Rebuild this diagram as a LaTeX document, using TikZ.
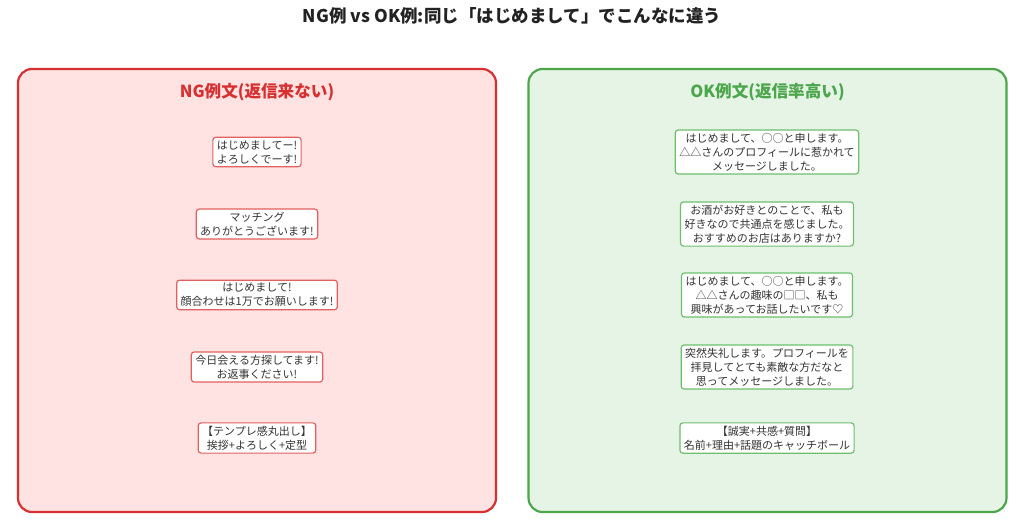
\documentclass[tikz,border=0pt]{standalone}
\usepackage{fontspec}
\setmainfont{Noto Sans CJK JP}
\usetikzlibrary{positioning}
\definecolor{ngFill}{RGB}{255, 226, 226}
\definecolor{ngDraw}{RGB}{214, 48, 49}
\definecolor{ngBox}{RGB}{226, 96, 96}
\definecolor{okFill}{RGB}{230, 244, 230}
\definecolor{okDraw}{RGB}{76, 166, 76}
\definecolor{okBox}{RGB}{110, 190, 110}
\definecolor{titleColor}{RGB}{34, 34, 34}
\tikzset{
    % パネル
    panel/.style={rectangle, line width=2.2pt, rounded corners=14pt},
    ngPanel/.style={panel, draw=ngDraw, fill=ngFill},
    okPanel/.style={panel, draw=okDraw, fill=okFill},
    panelTitle/.style={font=\fontsize{16.6}{20}\selectfont\bfseries},
    % 例文ボックス
    msg/.style={rectangle, fill=white, line width=1.2pt, rounded corners=3pt,
        align=center, font=\fontsize{11}{14}\selectfont, text=black!80,
        inner xsep=4pt, inner ysep=3pt},
    ngMsg/.style={msg, draw=ngBox},
    okMsg/.style={msg, draw=okBox}
}
\begin{document}
\begin{tikzpicture}[x=1pt, y=-1pt]
	\useasboundingbox (0,0) rectangle (1024,530);

	% タイトル
	\node [font=\fontsize{17.5}{20}\selectfont\bfseries, text=titleColor] (title) at (512,16)
	{NG例 vs OK例:同じ「はじめまして」でこんなに違う};

	% ==========================================
	% NG側
	% ==========================================
	\node [ngPanel, minimum width=478pt, minimum height=443pt] (ngPanel) at (257,290.5) {};
	\node [panelTitle, text=ngDraw] (ngTitle) at (257,92) {NG例文(返信来ない)};

	\node [ngMsg] (ng1) at (257,152) {はじめましてー!\\よろしくでーす!};
	\node [ngMsg] (ng2) at (257,224) {マッチング\\ありがとうございます!};
	\node [ngMsg] (ng3) at (257,295) {はじめまして!\\顔合わせは1万でお願いします!};
	\node [ngMsg] (ng4) at (257,367) {今日会える方探してます!\\お返事ください!};
	\node [ngMsg] (ng5) at (257,438) {【テンプレ感丸出し】\\挨拶+よろしく+定型};

	% ==========================================
	% OK側
	% ==========================================
	\node [okPanel, minimum width=478pt, minimum height=443pt] (okPanel) at (767.5,290.5) {};
	\node [panelTitle, text=okDraw] (okTitle) at (767.5,92) {OK例文(返信率高い)};

	\node [okMsg] (ok1) at (767,152) {はじめまして、○○と申します。\\△△さんのプロフィールに惹かれて\\メッセージしました。};
	\node [okMsg] (ok2) at (767,224) {お酒がお好きとのことで、私も\\好きなので共通点を感じました。\\おすすめのお店はありますか?};
	\node [okMsg] (ok3) at (767,295) {はじめまして、○○と申します。\\△△さんの趣味の□□、私も\\興味があってお話したいです♡};
	\node [okMsg] (ok4) at (767,367) {突然失礼します。プロフィールを\\拝見してとても素敵な方だなと\\思ってメッセージしました。};
	\node [okMsg] (ok5) at (767,438) {【誠実+共感+質問】\\名前+理由+話題のキャッチボール};

\end{tikzpicture}
\end{document}
